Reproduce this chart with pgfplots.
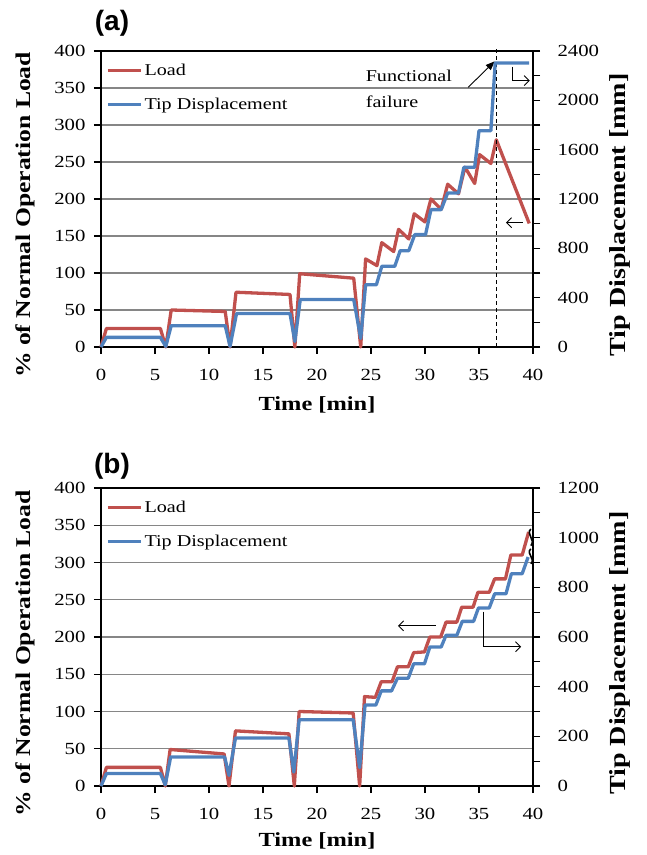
\documentclass[border=0pt]{standalone}
\usepackage{fontspec}
\setmainfont{Liberation Serif}[FakeStretch=1.22]
\newfontfamily\panelfont{Liberation Sans}
\usepackage{pgfplots}
\pgfplotsset{compat=1.18}
\usetikzlibrary{arrows.meta}
\definecolor{loadred}{RGB}{192,80,77}
\definecolor{tipblue}{RGB}{79,129,189}
\definecolor{gridgray}{RGB}{134,134,134}

\tikzset{
  loadline/.style={loadred, line width=3.3pt, line join=round},
  tipline/.style={tipblue, line width=3.3pt, line join=round},
  note/.style={font=\fontsize{16.5}{19}\selectfont, inner sep=0pt, anchor=west},
  barb/.style={black, line width=0.9pt, -{Straight Barb[length=5pt,width=10pt]}}
}
\pgfplotsset{
  base/.style={scale only axis, width=432pt, clip=false, xmin=0, xmax=40, ymin=0,
    tick align=outside, major tick length=7pt, minor tick length=7pt,
    tick style={black, line width=1.2pt},
    axis line style={black, line width=1.6pt},
    tick label style={font=\rmfamily\fontsize{17}{20}\selectfont},
    xticklabel={\pgfmathprintnumber[assume math mode=true,1000 sep={}]{\tick}},
    yticklabel={\pgfmathprintnumber[assume math mode=true,1000 sep={}]{\tick}},
    scaled ticks=false},
  leftax/.style={base, ymax=400, xtick={0,5,...,40}, ytick={0,50,...,400},
    xtick pos=bottom, ytick pos=left,
    xticklabel style={yshift=-12pt}, yticklabel style={xshift=-5pt},
    ymajorgrids, major grid style={gridgray, line width=1.3pt},
    xlabel={Time [min]}, ylabel={\% of Normal Operation Load},
    xlabel style={anchor=center, font=\bfseries\fontsize{20}{24}\selectfont},
    ylabel style={at={(axis description cs:-0.176,0.446)}, anchor=center,
      font=\bfseries\fontsize{21}{24}\selectfont},
    legend style={at={(axis cs:0,351)}, anchor=west, xshift=2pt, draw=none, fill=none,
      font=\fontsize{16.5}{19}\selectfont, row sep=17pt,
      nodes={inner xsep=2pt}},
    legend cell align=left,
    legend image code/.code={\draw[#1] (0pt,0pt) -- (33pt,0pt);}},
  rightax/.style={base, axis x line=none, axis y line*=right, ytick pos=right,
    yticklabel style={xshift=14pt},
    ylabel={Tip Displacement [mm]},
    ylabel style={at={(axis description cs:1.201,0.446)}, anchor=center,
      font=\bfseries\fontsize{23}{26}\selectfont}}
}

\begin{document}
\begin{tikzpicture}
\useasboundingbox (0pt,0pt) rectangle (646pt,855pt);

% ---------- (a) ----------
\node[font=\panelfont\fontsize{28}{30}\selectfont\bfseries] at (112pt,832pt) {(a)};
\begin{axis}[leftax, at={(101pt,508pt)}, anchor=south west, height=296pt,
  xlabel style={at={(axis description cs:0.5,-0.196)}}]
\addplot[loadline] coordinates {
(0,0) (0.5,25) (5.5,25) (6.0,0) (6.5,50) (11.5,48) (11.95,0) (12.5,74) (17.5,71)
(17.95,0) (18.4,99) (23.4,93) (24.05,0) (24.5,119) (25.55,110) (26.0,141) (27.1,129)
(27.55,159) (28.5,146) (29.0,180) (30.0,169) (30.55,200) (31.5,186) (32.1,220)
(33.1,207) (33.7,243) (34.6,221) (35.05,260) (36.1,248) (36.6,280) (39.65,167)};
\addlegendimage{tipline}
\legend{Load, Tip Displacement}
\draw[black, line width=1.2pt, dash pattern=on 4pt off 3pt] (axis cs:36.65,0) -- (axis cs:36.65,405);
\node[note] at (axis cs:24.5,367) {Functional};
\node[note] at (axis cs:24.5,331) {failure};
\draw[black, line width=0.9pt, -{Triangle[length=9pt,width=7pt]}] (axis cs:34.0,351) -- (axis cs:36.45,386);
\draw[barb] (axis cs:38.1,379) -- (axis cs:38.1,360) -- (axis cs:39.7,360);
\draw[barb] (axis cs:39.05,168) -- (axis cs:37.5,168);
\end{axis}
\begin{axis}[rightax, at={(101pt,508pt)}, anchor=south west, height=296pt,
  ymax=2400, ytick={0,400,...,2400}, minor ytick={200,600,...,2200}]
\addplot[tipline] coordinates {
(0,0) (0.5,78) (5.5,78) (6.0,5) (6.5,173) (11.5,173) (11.95,5) (12.55,271) (17.5,271)
(17.95,45) (18.45,385) (23.4,385) (24.05,70) (24.5,505) (25.5,505) (26.0,654) (27.2,654)
(27.7,781) (28.5,781) (29.05,911) (30.05,911) (30.55,1114) (31.5,1114) (32.1,1249)
(33.1,1249) (33.6,1457) (34.6,1457) (35.0,1754) (36.1,1754) (36.5,2303) (39.65,2303)};
\end{axis}

% ---------- (b) ----------
\node[font=\panelfont\fontsize{28}{30}\selectfont\bfseries] at (112pt,389pt) {(b)};
\begin{axis}[leftax, at={(101pt,69pt)}, anchor=south west, height=298pt,
  xlabel style={at={(axis description cs:0.5,-0.185)}}]
\addplot[loadline] coordinates {
(0,0) (0.5,25) (5.5,25) (5.95,0) (6.4,49) (11.4,43) (11.85,0) (12.45,74) (17.4,70)
(17.9,0) (18.35,100) (23.35,98) (23.95,0) (24.4,120) (25.4,119) (25.95,140) (26.95,140)
(27.45,160) (28.45,160) (28.95,179) (29.95,180) (30.45,200) (31.45,200) (31.95,220)
(32.95,220) (33.4,240) (34.45,240) (34.9,260) (35.95,260) (36.45,278) (37.45,278)
(37.95,310) (39.0,310) (39.6,341)};
\addlegendimage{tipline}
\legend{Load, Tip Displacement}
\draw[barb] (axis cs:31.0,215) -- (axis cs:27.5,215);
\draw[barb] (axis cs:35.4,234) -- (axis cs:35.4,187) -- (axis cs:38.9,187);
\end{axis}
\begin{axis}[rightax, at={(101pt,69pt)}, anchor=south west, height=298pt,
  ymax=1200, ytick={0,200,...,1200}, minor ytick={100,300,...,1100}]
\addplot[tipline] coordinates {
(0,0) (0.5,50) (5.5,50) (5.95,5) (6.45,117) (11.45,117) (11.85,43) (12.45,193) (17.4,193)
(17.85,56) (18.35,267) (23.35,267) (23.95,74) (24.45,326) (25.45,326) (25.95,383) (26.9,383)
(27.45,434) (28.45,434) (28.95,492) (29.95,492) (30.45,560) (31.5,560) (31.95,607)
(32.95,607) (33.45,663) (34.5,663) (34.95,717) (35.95,717) (36.45,774) (37.5,774)
(38.0,855) (39.0,855) (39.55,922)};
\draw[black, line width=1.6pt] (axis cs:39.8,1035) .. controls (axis cs:39.3,1015) and (axis cs:40.3,990) .. (axis cs:39.8,968);
\draw[black, line width=1.6pt] (axis cs:39.8,955) .. controls (axis cs:39.3,935) and (axis cs:40.3,915) .. (axis cs:39.8,895);
\end{axis}
\end{tikzpicture}
\end{document}
